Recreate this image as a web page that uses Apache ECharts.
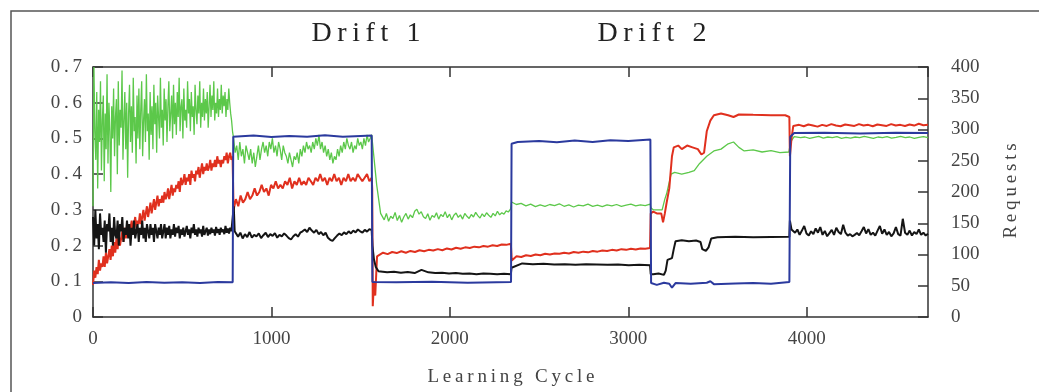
<!DOCTYPE html>
<html>
<head>
<meta charset="utf-8">
<script src="https://cdn.jsdelivr.net/npm/echarts@6/dist/echarts.min.js"></script>
<style>
  html, body { margin: 0; padding: 0; background: #fff; }
  #Chart { width: 1039px; height: 392px; }
</style>
</head>
<body>
<div id="Chart"></div>
<script>
var Chart = echarts.init(document.getElementById('Chart'));

// tick labels
var cycleTicks = [0, 1000, 2000, 3000, 4000];
var leftTicks = ['0', '0.1', '0.2', '0.3', '0.4', '0.5', '0.6', '0.7'];
var rightTicks = [0, 50, 100, 150, 200, 250, 300, 350, 400];
var maxCycle = 4680;

// green
var greenSeg1 = [0.31, 0.70, 0.52, 0.44, 0.63, 0.36, 0.58, 0.49, 0.66, 0.41,
  0.55, 0.62, 0.38, 0.57, 0.47, 0.68, 0.43, 0.60, 0.52, 0.35,
  0.59, 0.50, 0.64, 0.45, 0.56, 0.61, 0.40, 0.66, 0.48, 0.58,
  0.53, 0.69, 0.44, 0.55, 0.63, 0.47, 0.60, 0.39, 0.57, 0.65,
  0.49, 0.59, 0.46, 0.67, 0.52, 0.56, 0.43, 0.62, 0.50, 0.64,
  0.47, 0.58, 0.66, 0.45, 0.55, 0.61, 0.49, 0.68, 0.52, 0.57,
  0.44, 0.63, 0.51, 0.59, 0.47, 0.65, 0.54, 0.60, 0.46, 0.62,
  0.56, 0.50, 0.67, 0.53, 0.58, 0.48, 0.64, 0.55, 0.61, 0.49,
  0.59, 0.66, 0.52, 0.57, 0.62, 0.50, 0.65, 0.54, 0.60, 0.51,
  0.63, 0.56, 0.67, 0.52, 0.59, 0.61, 0.50, 0.64, 0.55, 0.58,
  0.53, 0.66, 0.57, 0.61, 0.52, 0.63, 0.56, 0.59, 0.51, 0.65,
  0.58, 0.54, 0.62, 0.57, 0.66, 0.53, 0.60, 0.56, 0.64, 0.55,
  0.61, 0.57, 0.63, 0.53, 0.59, 0.65, 0.56, 0.62, 0.58, 0.66,
  0.55, 0.60, 0.57, 0.64, 0.56, 0.61, 0.58, 0.65, 0.57, 0.62,
  0.59, 0.63, 0.56, 0.61, 0.58, 0.64, 0.60, 0.57, 0.55, 0.52];
var greenSeg2 = [0.50, 0.46, 0.48, 0.44, 0.49, 0.45, 0.47, 0.43, 0.48, 0.46,
  0.44, 0.47, 0.43, 0.46, 0.42, 0.45, 0.48, 0.44, 0.47, 0.49,
  0.46, 0.48, 0.45, 0.49, 0.47, 0.50, 0.46, 0.48, 0.45, 0.49,
  0.47, 0.44, 0.48, 0.46, 0.45, 0.43, 0.46, 0.44, 0.42, 0.45,
  0.44, 0.46, 0.43, 0.47, 0.45, 0.48, 0.46, 0.49, 0.47, 0.48,
  0.46, 0.49, 0.47, 0.50, 0.48, 0.51, 0.47, 0.49, 0.46, 0.48,
  0.45, 0.47, 0.44, 0.46, 0.43, 0.45, 0.44, 0.47, 0.45, 0.48,
  0.46, 0.49, 0.47, 0.50, 0.48, 0.47, 0.49, 0.46, 0.48, 0.47,
  0.50, 0.48, 0.49, 0.47, 0.50, 0.48, 0.51, 0.49, 0.50, 0.51];
var greenDrop2 = [[1566, 0.49], [1590, 0.37], [1612, 0.29]];
var greenSeg3 = [0.285, 0.272, 0.29, 0.268, 0.282, 0.276, 0.293, 0.27, 0.284, 0.265,
  0.28, 0.29, 0.274, 0.286, 0.278, 0.296, 0.302, 0.288, 0.295, 0.281,
  0.276, 0.289, 0.271, 0.284, 0.279, 0.292, 0.274, 0.287, 0.281, 0.295,
  0.278, 0.288, 0.272, 0.285, 0.291, 0.279, 0.286, 0.274, 0.29, 0.282,
  0.276, 0.287, 0.28, 0.293, 0.284, 0.277, 0.289, 0.281, 0.292, 0.285,
  0.279, 0.29, 0.283, 0.296, 0.286, 0.292, 0.288, 0.297, 0.294, 0.302];
var greenSeg4 = [0.322, 0.315, 0.318, 0.311, 0.316, 0.309, 0.314, 0.31, 0.315, 0.312,
  0.317, 0.31, 0.314, 0.308, 0.313, 0.311, 0.316, 0.31, 0.313, 0.309,
  0.314, 0.311, 0.315, 0.31, 0.313, 0.316, 0.311, 0.314, 0.312, 0.316];
var greenSeg5 = [[3128, 0.305], [3140, 0.30], [3190, 0.30], [3205, 0.33], [3215, 0.345], [3240, 0.40], [3260, 0.405], [3300, 0.40],
  [3340, 0.405], [3370, 0.41], [3400, 0.43], [3440, 0.45], [3480, 0.465], [3520, 0.47], [3560, 0.485], [3590, 0.49], [3620, 0.475],
  [3650, 0.465], [3700, 0.468], [3750, 0.462], [3800, 0.466], [3850, 0.46], [3900, 0.462], [3910, 0.49], [3930, 0.505]];
var greenSeg6 = [0.505, 0.502, 0.504, 0.5, 0.503, 0.506, 0.501, 0.504, 0.502, 0.505,
  0.5, 0.503, 0.501, 0.504, 0.502, 0.506, 0.503, 0.5, 0.504, 0.502,
  0.505, 0.501, 0.503, 0.506, 0.502, 0.504, 0.5, 0.503, 0.505, 0.502];

// red
var redSeg1 = [0.09, 0.13, 0.11, 0.14, 0.12, 0.16, 0.13, 0.15, 0.14, 0.17,
  0.14, 0.18, 0.15, 0.17, 0.19, 0.16, 0.20, 0.17, 0.21, 0.18,
  0.22, 0.19, 0.23, 0.20, 0.22, 0.24, 0.21, 0.25, 0.22, 0.24,
  0.26, 0.23, 0.25, 0.27, 0.24, 0.26, 0.28, 0.25, 0.27, 0.26,
  0.29, 0.26, 0.28, 0.30, 0.27, 0.29, 0.31, 0.28, 0.30, 0.32,
  0.29, 0.31, 0.33, 0.30, 0.32, 0.34, 0.31, 0.33, 0.32, 0.34,
  0.32, 0.35, 0.33, 0.34, 0.36, 0.33, 0.35, 0.37, 0.34, 0.36,
  0.35, 0.37, 0.36, 0.38, 0.35, 0.39, 0.37, 0.38, 0.40, 0.37,
  0.39, 0.38, 0.40, 0.37, 0.41, 0.39, 0.40, 0.38, 0.41, 0.40,
  0.42, 0.39, 0.41, 0.43, 0.40, 0.42, 0.41, 0.43, 0.41, 0.42,
  0.44, 0.41, 0.43, 0.42, 0.44, 0.42, 0.45, 0.43, 0.44, 0.42,
  0.44, 0.43, 0.45, 0.44, 0.46, 0.43, 0.45, 0.46, 0.44, 0.45];
var redSeg2 = [0.30, 0.33, 0.31, 0.34, 0.32, 0.33, 0.35, 0.33, 0.34, 0.36,
  0.34, 0.35, 0.37, 0.35, 0.36, 0.34, 0.37, 0.36, 0.38, 0.36,
  0.37, 0.36, 0.38, 0.37, 0.39, 0.36, 0.38, 0.37, 0.39, 0.37,
  0.38, 0.37, 0.39, 0.38, 0.37, 0.39, 0.38, 0.40, 0.38, 0.39,
  0.37, 0.39, 0.38, 0.40, 0.38, 0.39, 0.37, 0.39, 0.38, 0.40,
  0.38, 0.39, 0.38, 0.40, 0.39, 0.38, 0.39, 0.40, 0.38, 0.39];
var redDrop2 = [[1565, 0.36], [1568, 0.03], [1575, 0.10], [1582, 0.06], [1592, 0.17]];
var redSeg3 = [0.175, 0.18, 0.176, 0.182, 0.179, 0.184, 0.18, 0.185, 0.182, 0.187,
  0.184, 0.188, 0.186, 0.19, 0.187, 0.192, 0.189, 0.194, 0.191, 0.195,
  0.193, 0.197, 0.195, 0.199, 0.197, 0.201, 0.199, 0.203, 0.202, 0.205];
var redSeg4 = [0.158, 0.17, 0.168, 0.173, 0.171, 0.175, 0.173, 0.177, 0.175, 0.178,
  0.177, 0.18, 0.178, 0.182, 0.18, 0.183, 0.181, 0.185, 0.183, 0.186,
  0.185, 0.188, 0.186, 0.19, 0.188, 0.191, 0.189, 0.192, 0.191, 0.193];
var redSeg5 = [[3126, 0.29], [3140, 0.295], [3160, 0.29], [3185, 0.29], [3195, 0.265], [3205, 0.29], [3215, 0.32], [3230, 0.36],
  [3245, 0.45], [3255, 0.475], [3280, 0.48], [3300, 0.47], [3330, 0.48], [3360, 0.475], [3390, 0.47], [3410, 0.455], [3425, 0.46],
  [3440, 0.52], [3460, 0.55], [3480, 0.565], [3520, 0.57], [3560, 0.565], [3590, 0.56], [3620, 0.567], [3700, 0.566], [3800, 0.565],
  [3880, 0.565], [3903, 0.56], [3906, 0.45], [3915, 0.50], [3925, 0.535]];
var redSeg6 = [0.535, 0.538, 0.534, 0.539, 0.536, 0.533, 0.538, 0.535, 0.54, 0.536,
  0.534, 0.539, 0.537, 0.535, 0.54, 0.536, 0.538, 0.534, 0.539, 0.537,
  0.535, 0.54, 0.536, 0.538, 0.535, 0.539, 0.536, 0.541, 0.537, 0.538];

// black
var blackSeg1 = [0.28, 0.20, 0.30, 0.22, 0.26, 0.19, 0.29, 0.23, 0.25, 0.21,
  0.27, 0.18, 0.26, 0.24, 0.29, 0.21, 0.25, 0.20, 0.28, 0.23,
  0.22, 0.27, 0.20, 0.26, 0.24, 0.28, 0.21, 0.25, 0.23, 0.27,
  0.22, 0.26, 0.20, 0.25, 0.23, 0.27, 0.22, 0.24, 0.26, 0.21,
  0.25, 0.23, 0.27, 0.22, 0.25, 0.21, 0.26, 0.24, 0.22, 0.26,
  0.23, 0.25, 0.21, 0.26, 0.24, 0.22, 0.25, 0.23, 0.26, 0.22,
  0.24, 0.26, 0.22, 0.25, 0.23, 0.255, 0.22, 0.245, 0.23, 0.26,
  0.225, 0.25, 0.235, 0.255, 0.22, 0.245, 0.23, 0.25, 0.225, 0.24,
  0.255, 0.23, 0.245, 0.22, 0.25, 0.235, 0.26, 0.23, 0.245, 0.225,
  0.25, 0.235, 0.245, 0.225, 0.255, 0.23, 0.24, 0.25, 0.228, 0.245,
  0.232, 0.25, 0.236, 0.245, 0.228, 0.252, 0.235, 0.246, 0.23, 0.25,
  0.238, 0.245, 0.232, 0.255, 0.236, 0.248, 0.234, 0.25, 0.24, 0.245];
var blackJump1 = [[786, 0.24], [789, 0.31], [794, 0.24]];
var blackSeg2 = [0.24, 0.225, 0.236, 0.22, 0.232, 0.224, 0.238, 0.222, 0.23, 0.226,
  0.234, 0.221, 0.229, 0.236, 0.224, 0.232, 0.227, 0.235, 0.222, 0.23,
  0.226, 0.234, 0.228, 0.221, 0.217, 0.226, 0.232, 0.225, 0.236, 0.24,
  0.245, 0.238, 0.25, 0.242, 0.236, 0.244, 0.232, 0.238, 0.229, 0.236,
  0.222, 0.216, 0.213, 0.221, 0.228, 0.234, 0.229, 0.237, 0.232, 0.24,
  0.234, 0.242, 0.237, 0.245, 0.24, 0.236, 0.244, 0.239, 0.246, 0.243];
var blackDrop2 = [[1566, 0.20], [1575, 0.16], [1585, 0.14], [1600, 0.128]];
var blackSeg3 = [0.128, 0.125, 0.127, 0.124, 0.126, 0.123, 0.132, 0.125, 0.123, 0.124,
  0.122, 0.123, 0.121, 0.122, 0.12, 0.122, 0.121, 0.12, 0.121, 0.12];
var blackSeg4 = [0.138, 0.15, 0.148, 0.149, 0.147, 0.148, 0.146, 0.148, 0.147, 0.146, 0.147, 0.145, 0.146, 0.145];
var blackSeg5 = [[3126, 0.12], [3140, 0.12], [3170, 0.122], [3200, 0.118], [3210, 0.13], [3220, 0.16], [3245, 0.165], [3255, 0.19],
  [3265, 0.212], [3300, 0.215], [3340, 0.212], [3380, 0.214], [3405, 0.21], [3415, 0.19], [3435, 0.185], [3450, 0.195], [3465, 0.22],
  [3500, 0.223], [3600, 0.225], [3700, 0.223], [3800, 0.224], [3903, 0.225], [3906, 0.27], [3915, 0.245]];
var blackSeg6 = [0.25, 0.236, 0.245, 0.23, 0.242, 0.255, 0.234, 0.228, 0.24, 0.232,
  0.248, 0.236, 0.252, 0.23, 0.241, 0.226, 0.235, 0.244, 0.23, 0.25,
  0.238, 0.232, 0.258, 0.236, 0.228, 0.232, 0.226, 0.23, 0.235, 0.229,
  0.24, 0.252, 0.234, 0.246, 0.23, 0.236, 0.228, 0.242, 0.255, 0.233,
  0.245, 0.23, 0.238, 0.226, 0.234, 0.252, 0.232, 0.228, 0.275, 0.236,
  0.23, 0.242, 0.228, 0.238, 0.232, 0.245, 0.23, 0.236, 0.228, 0.233];

// blue
var bluePoints = [[0, 0.095], [100, 0.097], [200, 0.095], [300, 0.098], [400, 0.096], [500, 0.097], [600, 0.095], [700, 0.098], [783, 0.097],
  [786, 0.505], [900, 0.508], [1000, 0.504], [1100, 0.507], [1200, 0.505], [1300, 0.509], [1400, 0.505], [1500, 0.507], [1562, 0.508],
  [1566, 0.098], [1700, 0.097], [1900, 0.099], [2100, 0.096], [2343, 0.098],
  [2346, 0.485], [2380, 0.49], [2500, 0.493], [2600, 0.489], [2700, 0.494], [2800, 0.49], [2900, 0.495], [3000, 0.493], [3124, 0.497],
  [3128, 0.095], [3160, 0.09], [3200, 0.096], [3230, 0.093], [3245, 0.082], [3265, 0.095], [3350, 0.093], [3440, 0.096], [3460, 0.1],
  [3480, 0.092], [3600, 0.094], [3700, 0.095], [3800, 0.093], [3903, 0.098],
  [3908, 0.505], [3930, 0.515], [4100, 0.516], [4300, 0.514], [4500, 0.516], [4680, 0.515]];

// spread a run of readings evenly over [from, to]
function piece(from, to, vals) {
    var step = (to - from) / (vals.length - 1);
    return vals.map(function (v, i) { return [from + i * step, v]; });
}

var greenData = [].concat(piece(0, 782, greenSeg1), piece(788, 1562, greenSeg2), greenDrop2,
    piece(1620, 2340, greenSeg3), piece(2346, 3122, greenSeg4), greenSeg5, piece(3940, maxCycle, greenSeg6));
var redData = [].concat(piece(0, 782, redSeg1), piece(788, 1562, redSeg2), redDrop2,
    piece(1600, 2342, redSeg3), piece(2347, 3122, redSeg4), redSeg5, piece(3932, maxCycle, redSeg6));
var blackData = [].concat(piece(0, 782, blackSeg1), blackJump1, piece(800, 1562, blackSeg2), blackDrop2,
    piece(1610, 2342, blackSeg3), piece(2346, 3122, blackSeg4), blackSeg5, piece(3922, maxCycle, blackSeg6));

var serif = '"Liberation Serif", "DejaVu Serif", serif';
var spaced = function (s) { return s.split('').join('\u2009'); };
var frame = { color: '#333', width: 1.5 };

function line(name, data, color, width) {
    return {
        name: name, type: 'line', data: data, showSymbol: false, symbol: 'none',
        lineStyle: { color: color, width: width }, itemStyle: { color: color },
        silent: true
    };
}

var ChartOption = {
    animation: false,
    backgroundColor: '#fff',
    grid: { left: 93, right: 111, top: 67, bottom: 75 },
    xAxis: [{
        type: 'value', min: 0, max: maxCycle, interval: 1000, position: 'bottom',
        axisLine: { onZero: false, lineStyle: frame },
        axisTick: { inside: true, length: 10, lineStyle: frame },
        splitLine: { show: false },
        axisLabel: {
            margin: 13, color: '#444', fontFamily: serif, fontSize: 19, showMaxLabel: false,
            formatter: function (v) { return cycleTicks.indexOf(v) >= 0 ? String(v) : ''; }
        }
    }, {
        type: 'value', min: 0, max: maxCycle, interval: 1000, position: 'top',
        axisLine: { onZero: false, lineStyle: frame },
        axisTick: { inside: true, length: 10, lineStyle: frame },
        splitLine: { show: false },
        axisLabel: { show: false }
    }],
    yAxis: [{
        type: 'value', min: 0, max: 0.7, interval: 0.1, position: 'left',
        axisLine: { show: true, onZero: false, lineStyle: frame },
        axisTick: { show: true, inside: true, length: 10, lineStyle: frame },
        splitLine: { show: false },
        axisLabel: {
            margin: 11, color: '#444', fontFamily: serif, fontSize: 19,
            formatter: function (v) { return spaced(leftTicks[Math.round(v * 10)]); }
        }
    }, {
        type: 'value', min: 0, max: 400, interval: 50, position: 'right',
        axisLine: { show: true, onZero: false, lineStyle: frame },
        axisTick: { show: true, inside: true, length: 10, lineStyle: frame },
        splitLine: { show: false },
        axisLabel: {
            margin: 23, color: '#444', fontFamily: serif, fontSize: 19,
            formatter: function (v) { return rightTicks.indexOf(v) >= 0 ? String(v) : ''; }
        }
    }],
    graphic: [
        { type: 'rect', shape: { x: 11, y: 11, width: 1100, height: 500 }, style: { fill: 'none', stroke: '#555', lineWidth: 1.5 }, silent: true },
        { type: 'text', x: 366, y: 34, style: { text: spaced('Drift 1'), font: '28px ' + serif, fill: '#222', align: 'center', verticalAlign: 'middle' } },
        { type: 'text', x: 652, y: 34, style: { text: spaced('Drift 2'), font: '28px ' + serif, fill: '#222', align: 'center', verticalAlign: 'middle' } },
        { type: 'text', x: 511, y: 377, style: { text: spaced('Learning Cycle'), font: '19px ' + serif, fill: '#444', align: 'center', verticalAlign: 'middle' } },
        { type: 'text', x: 1011, y: 191, rotation: Math.PI / 2, style: { text: spaced('Requests'), font: '19px ' + serif, fill: '#444', align: 'center', verticalAlign: 'middle' } }
    ],
    series: [
        line('green', greenData, '#5cc84a', 1.3),
        line('red', redData, '#e0301e', 2),
        line('black', blackData, '#151515', 2),
        line('blue', bluePoints, '#2b3a9e', 2)
    ]
};

Chart.setOption(ChartOption);

window.addEventListener("resize", function () {
    Chart.resize();
});
</script>
</body>
</html>
